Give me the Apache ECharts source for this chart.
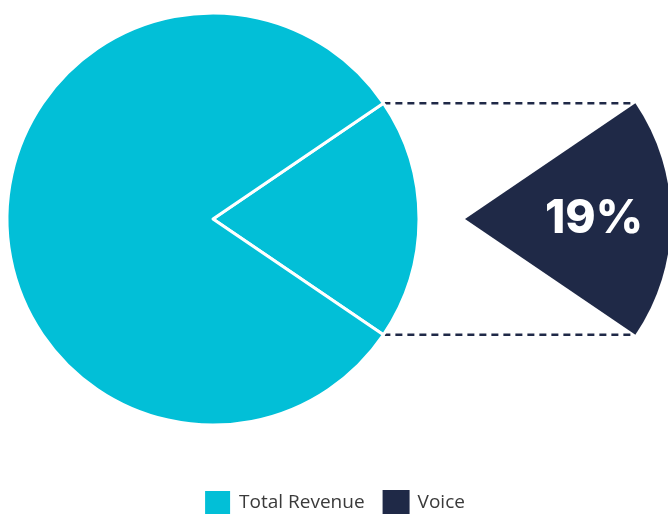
<!DOCTYPE html>
<html>
<head>
<meta charset="utf-8">
<script src="https://cdn.jsdelivr.net/npm/echarts@6/dist/echarts.min.js"></script>
<style>
  html, body { margin: 0; padding: 0; background: #ffffff; }
  #chart { width: 668px; height: 514px; }
</style>
</head>
<body>
<div id="chart"></div>
<script>
// Revenue split: voice share vs. the rest of total revenue (percent)
const categories = ['Total Revenue', 'Voice'];
const voiceShare = [19];
const otherShare = [81];
const colors = ['#02bfd7', '#1f2947'];

const mainCenter = [213, 219];
const detailCenter = [465, 219];
const radius = 206;
// the voice wedge is centred on 3 o'clock
const halfAngle = voiceShare[0] / 100 * 360 / 2;

const chart = echarts.init(document.getElementById('chart'), null, { renderer: 'canvas' });

function cornerPoints(center) {
  const rad = halfAngle * Math.PI / 180;
  return {
    top: [center[0] + radius * Math.cos(rad), center[1] - radius * Math.sin(rad)],
    bottom: [center[0] + radius * Math.cos(rad), center[1] + radius * Math.sin(rad)]
  };
}
const a = cornerPoints(mainCenter);
const b = cornerPoints(detailCenter);

const dashStyle = { stroke: colors[1], lineWidth: 2.5, lineDash: [7, 5] };

chart.setOption({
  animation: false,
  color: colors,
  legend: {
    data: categories,
    left: 'center',
    top: 489,
    padding: 0,
    itemWidth: 27,
    itemHeight: 26,
    itemGap: 18,
    icon: 'rect',
    textStyle: { fontFamily: 'Open Sans', fontSize: 19, color: '#3a3a3a', padding: [0, 0, 0, 3] }
  },
  graphic: [
    { type: 'line', z: 0, shape: { x1: a.top[0], y1: a.top[1], x2: b.top[0], y2: b.top[1] }, style: dashStyle, silent: true },
    { type: 'line', z: 0, shape: { x1: a.bottom[0], y1: a.bottom[1], x2: b.bottom[0], y2: b.bottom[1] }, style: dashStyle, silent: true }
  ],
  series: [
    {
      type: 'pie',
      center: mainCenter,
      radius: radius,
      startAngle: halfAngle,
      clockwise: true,
      silent: true,
      label: { show: false },
      labelLine: { show: false },
      itemStyle: { color: colors[0], borderColor: '#ffffff', borderWidth: 3 },
      data: [
        { name: categories[0], value: voiceShare[0] },
        { name: categories[0], value: otherShare[0] }
      ]
    },
    {
      type: 'pie',
      center: detailCenter,
      radius: radius,
      startAngle: halfAngle,
      clockwise: true,
      silent: true,
      labelLine: { show: false },
      data: [
        {
          name: categories[1],
          value: voiceShare[0],
          itemStyle: { color: colors[1] },
          label: {
            show: true,
            position: 'inside',
            formatter: '{c}%',
            color: '#ffffff',
            fontFamily: 'Inter',
            fontWeight: 800,
            fontSize: 46,
            padding: [0, 0, 0, 46]
          }
        },
        {
          name: '',
          value: otherShare[0],
          itemStyle: { color: 'rgba(0,0,0,0)' },
          label: { show: false }
        }
      ]
    }
  ]
});
</script>
</body>
</html>
